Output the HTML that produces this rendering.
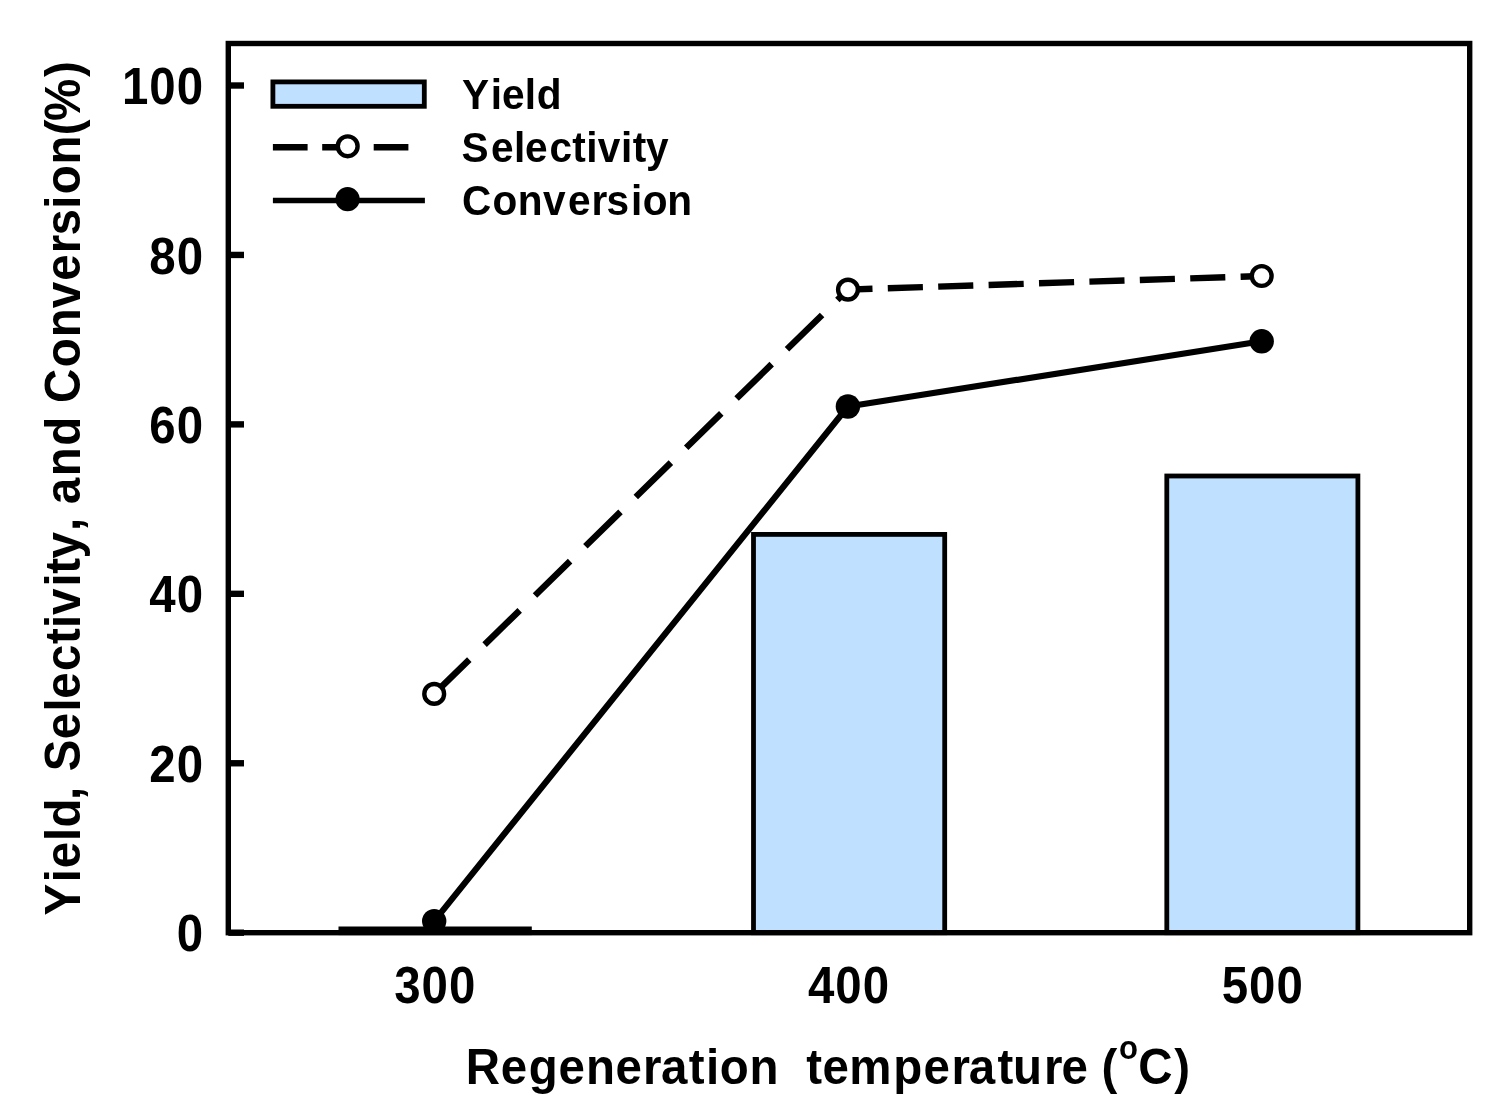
<!DOCTYPE html>
<html lang="en"><head><meta charset="utf-8"><title>Regeneration temperature chart</title>
<style>html,body{margin:0;padding:0;background:#fff}body{width:1498px;height:1106px;overflow:hidden}svg{display:block}</style>
</head><body>
<svg width="1498" height="1106" viewBox="0 0 1498 1106">
<rect x="0" y="0" width="1498" height="1106" fill="#fff"/>
<g fill="#BFE0FF" stroke="#000" stroke-width="4.8">
<rect x="340.90" y="928.90" width="188.50" height="3.80"/>
<rect x="753.50" y="534.40" width="191.20" height="398.30"/>
<rect x="1166.80" y="476.00" width="191.10" height="456.70"/>
</g>
<rect x="228.3" y="43.5" width="1241.4" height="889.2" fill="none" stroke="#000" stroke-width="5.4"/>
<g stroke="#000" stroke-width="6.4">
<line x1="228.3" y1="932.70" x2="244" y2="932.70"/>
<line x1="228.3" y1="763.26" x2="244" y2="763.26"/>
<line x1="228.3" y1="593.82" x2="244" y2="593.82"/>
<line x1="228.3" y1="424.38" x2="244" y2="424.38"/>
<line x1="228.3" y1="254.94" x2="244" y2="254.94"/>
<line x1="228.3" y1="85.50" x2="244" y2="85.50"/>
</g>
<polyline points="434.2,921.1 847.9,406.5 1261.7,341.3" fill="none" stroke="#000" stroke-width="6.2" stroke-linejoin="round"/>
<line x1="434.2" y1="693.9" x2="848.0" y2="289.6" stroke="#000" stroke-width="6.4" stroke-dasharray="49.07 21.39" stroke-dashoffset="0.00"/>
<line x1="848.0" y1="289.6" x2="1261.7" y2="276.0" stroke="#000" stroke-width="6.4" stroke-dasharray="35.12 15.31" stroke-dashoffset="10.61"/>
<circle cx="434.2" cy="693.9" r="9.9" fill="#fff" stroke="#000" stroke-width="4.4"/>
<circle cx="848.0" cy="289.6" r="9.9" fill="#fff" stroke="#000" stroke-width="4.4"/>
<circle cx="1261.7" cy="276.0" r="9.9" fill="#fff" stroke="#000" stroke-width="4.4"/>
<circle cx="434.2" cy="921.1" r="12.2" fill="#000"/>
<circle cx="847.9" cy="406.5" r="12.2" fill="#000"/>
<circle cx="1261.7" cy="341.3" r="12.2" fill="#000"/>
<rect x="272.9" y="81.9" width="151.39999999999998" height="24.40" fill="#BFE0FF" stroke="#000" stroke-width="4.8"/>
<line x1="272.9" y1="147.3" x2="408.4" y2="147.3" stroke="#000" stroke-width="6.4" stroke-dasharray="34.7 14.6 34.7 16.8 34.8 100"/>
<circle cx="347.7" cy="146.3" r="9.9" fill="#fff" stroke="#000" stroke-width="4.4"/>
<line x1="272.9" y1="200.5" x2="424.9" y2="200.5" stroke="#000" stroke-width="5.6"/>
<circle cx="347.6" cy="199.2" r="12.1" fill="#000"/>
<g font-family="Liberation Sans, Arial, Helvetica, sans-serif" font-weight="bold" fill="#000">
<text transform="translate(461.5,109) scale(0.953,1)" x="0.63 30.80 42.52 66.47 78.87" font-size="42.6">Yield</text>
<text transform="translate(461.5,162.4) scale(0.953,1)" x="0.00 31.06 55.01 66.57 92.25 116.35 130.83 142.88 167.45 179.59 193.51" font-size="42.6">Selectivity</text>
<text transform="translate(461.5,215) scale(0.953,1)" x="0.52 32.47 59.12 85.60 111.75 136.31 152.05 177.82 190.13 215.92" font-size="42.6">Conversion</text>
<text transform="translate(203,951.3) scale(0.93,1)" x="1.07" font-size="51.0" letter-spacing="1.07" text-anchor="end">0</text>
<text transform="translate(203,781.86) scale(0.93,1)" x="1.07" font-size="51.0" letter-spacing="1.07" text-anchor="end">20</text>
<text transform="translate(203,612.42) scale(0.93,1)" x="1.07" font-size="51.0" letter-spacing="1.07" text-anchor="end">40</text>
<text transform="translate(203,442.98) scale(0.93,1)" x="1.07" font-size="51.0" letter-spacing="1.07" text-anchor="end">60</text>
<text transform="translate(203,273.54) scale(0.93,1)" x="1.07" font-size="51.0" letter-spacing="1.07" text-anchor="end">80</text>
<text transform="translate(203,104.1) scale(0.93,1)" x="1.07" font-size="51.0" letter-spacing="1.07" text-anchor="end">100</text>
<text transform="translate(434.7,1002.9) scale(0.93,1)" x="0.54" font-size="51.0" letter-spacing="1.07" text-anchor="middle">300</text>
<text transform="translate(848.5,1002.9) scale(0.93,1)" x="0.54" font-size="51.0" letter-spacing="1.07" text-anchor="middle">400</text>
<text transform="translate(1262.2,1002.9) scale(0.93,1)" x="0.54" font-size="51.0" letter-spacing="1.07" text-anchor="middle">500</text>
<text transform="translate(465.5,1083.8) scale(0.94,1)" x="0.21 37.58 67.20 98.84 128.26 159.58 188.89 208.01 237.53 255.99 270.45 302.25 333.30 348.13 362.48 379.72 408.18 455.09 487.37 516.95 535.48 565.96 582.35 615.42 634.17 662.52 676.61" font-size="50.5" style="white-space:pre">Regeneration  temperature (</text>
<text transform="translate(1118.8,1059.2) scale(0.94,1)" x="0.32" font-size="33">o</text>
<text transform="translate(1138.6,1083.8) scale(0.94,1)" x="-0.32 38.05" font-size="50.5">C)</text>
<text transform="translate(80.2,916.3) rotate(-90) scale(0.94,1)" x="0.74 36.22 51.09 80.08 94.48 123.85 139.08 154.29 188.40 217.76 231.42 260.98 289.76 306.79 320.66 350.93 364.32 380.71 409.94 424.13 438.27 468.11 500.49 531.76 546.21 584.02 615.97 646.87 676.12 705.43 724.23 752.69 768.05 799.80 830.95 846.07 892.99" font-size="50.5">Yield, Selectivity, and Conversion(%)</text>
</g>
</svg>
</body></html>
